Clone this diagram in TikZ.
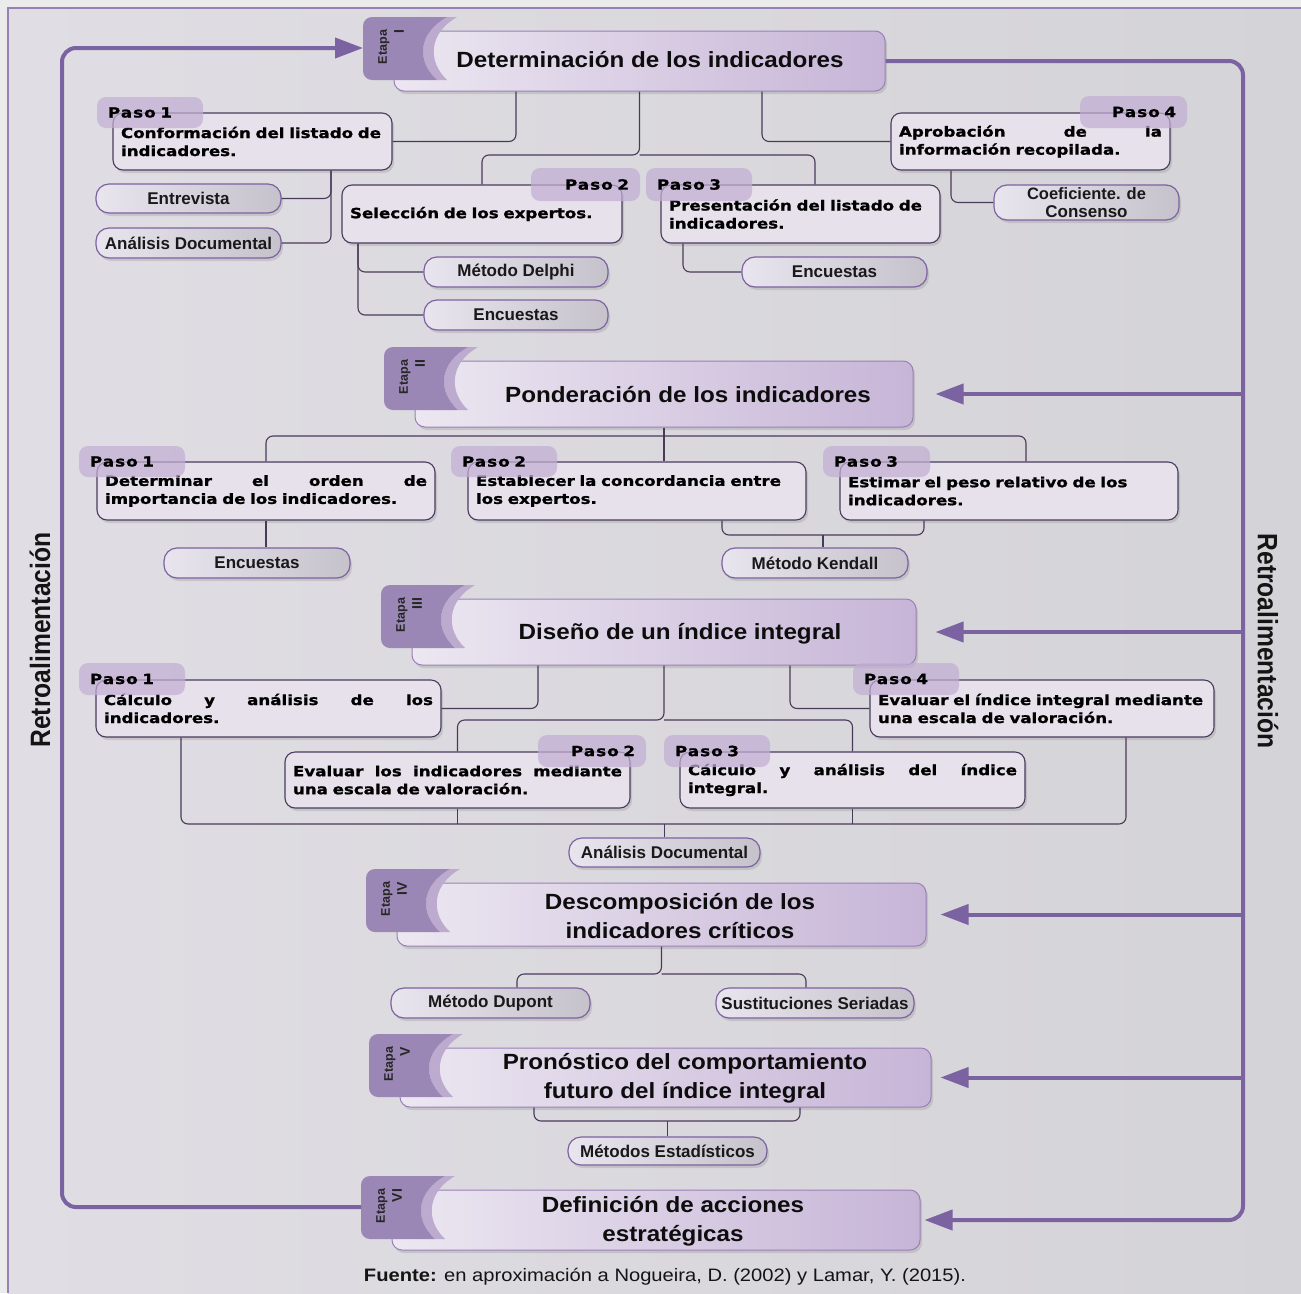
\documentclass[tikz,border=0pt]{standalone}
\usepackage{fontspec}
\setmainfont{Liberation Sans}
\newfontfamily\stepfont{DejaVu Sans}[FakeStretch=1.19,FakeBold=1.2]
\newfontfamily\titlefont{Liberation Sans}[FakeStretch=1.1]
\newfontfamily\srcfont{Liberation Sans}[FakeStretch=1.12]
\newfontfamily\narrowfont{Liberation Sans}[FakeStretch=0.88]
\usetikzlibrary{arrows.meta,shadows}
\definecolor{fbpurple}{HTML}{7B62A0}
\definecolor{tabfill}{HTML}{9A87B5}
\definecolor{tablight}{HTML}{BCAACF}
\definecolor{stageL}{HTML}{ECE7F1}
\definecolor{stageR}{HTML}{C7B5D7}
\definecolor{stageB}{HTML}{9A80B8}
\definecolor{stepfill}{HTML}{E6E1EB}
\definecolor{stepB}{HTML}{4B3B5E}
\definecolor{pasocol}{HTML}{C2AED4}
\definecolor{pillL}{HTML}{E9E5EE}
\definecolor{pillR}{HTML}{C6C2CB}
\definecolor{pillB}{HTML}{7D62A0}
\definecolor{connc}{HTML}{4A3A5A}
\definecolor{bgL}{HTML}{E0DEE4}
\definecolor{bgR}{HTML}{D4D3D7}

\newcommand\mkstage[6]{%
  \pgfmathsetmacro\sbw{#4-#2}\pgfmathsetmacro\sbh{#5-#3}%
  \node[stagestyle, minimum width=\sbw pt, minimum height=\sbh pt] (#1) at ({(#2+#4)/2},{(#3+#5)/2}) {};
  \fill[tablight] ({#2+53},{#3-14}) .. controls ({#2+24},{#3+2}) and ({#2+22},{#3+30}) .. ({#2+43},{#3+49}) -- ({#2+53},{#3+49}) .. controls ({#2+33},{#3+30}) and ({#2+35},{#3+2}) .. ({#2+63},{#3-14}) -- cycle;
  \fill[tabfill] ({#2+53},{#3-14}) -- ({#2-22},{#3-14}) arc[start angle=270,end angle=180,radius=9] -- ({#2-31},{#3+40}) arc[start angle=180,end angle=90,radius=9] -- ({#2+43},{#3+49}) .. controls ({#2+22},{#3+30}) and ({#2+24},{#3+2}) .. ({#2+53},{#3-14}) -- cycle;
  \coordinate (#1tab) at ({#2-31},{#3+17});
  \node[etapastyle, rotate=90, align=right] (#1et) at ({#2-3},{#3+16}) {Etapa\\{\fontsize{14}{17}\selectfont #6}};
}
\newcommand\mkstep[6]{%
  \pgfmathsetmacro\sbw{#4-#2}\pgfmathsetmacro\sbh{#5-#3}\pgfmathsetmacro\sbt{#4-#2-16}%
  \node[stepstyle, minimum width=\sbw pt, minimum height=\sbh pt, text width=\sbt pt] (#1) at ({(#2+#4)/2},{(#3+#5)/2}) {#6};
}
\newcommand\mkpaso[7]{%
  \pgfmathsetmacro\sbw{#4-#2}\pgfmathsetmacro\sbh{#5-#3}\pgfmathsetmacro\sbt{#4-#2-22}%
  \node[pasostyle, minimum width=\sbw pt, minimum height=\sbh pt, text width=\sbt pt, align=#7] (#1) at ({(#2+#4)/2},{(#3+#5)/2}) {#6};
}
\newcommand\mkpill[6]{%
  \pgfmathsetmacro\sbw{#4-#2}\pgfmathsetmacro\sbh{#5-#3}%
  \node[pillstyle, minimum width=\sbw pt, minimum height=\sbh pt] (#1) at ({(#2+#4)/2},{(#3+#5)/2}) {#6};
}

\begin{document}
\begin{tikzpicture}[x=1pt,y=-1pt,
  stagestyle/.style={rounded corners=10pt, left color=stageL, right color=stageR, draw=stageB, line width=1pt,
     drop shadow={opacity=0.25, shadow xshift=2pt, shadow yshift=-3pt}, inner sep=0pt},
  titlestyle/.style={font=\titlefont\bfseries\fontsize{22}{29}\selectfont, align=center, text=black!95, inner sep=0pt},
  etapastyle/.style={font=\bfseries\fontsize{12.5}{17}\selectfont, text=black!85, inner sep=0pt},
  stepstyle/.style={rounded corners=10pt, fill=stepfill, draw=stepB, line width=1.1pt, inner xsep=8pt, inner ysep=3pt,
     align=left, font=\stepfont\bfseries\fontsize{14}{18}\selectfont, text=black,
     drop shadow={opacity=0.25, shadow xshift=2pt, shadow yshift=-3pt}},
  pasostyle/.style={rounded corners=9pt, fill=pasocol, fill opacity=0.72, text opacity=1, inner xsep=11pt, inner ysep=0pt,
     font=\stepfont\bfseries\fontsize{14}{16}\selectfont\addfontfeature{LetterSpace=8}, text=black},
  pillstyle/.style={rounded corners=13pt, left color=pillL, right color=pillR, draw=pillB, line width=1.2pt,
     inner sep=1pt, align=center, font=\bfseries\fontsize{17}{18}\selectfont, text=black!90,
     drop shadow={opacity=0.25, shadow xshift=2pt, shadow yshift=-3pt}},
  conn/.style={draw=connc, line width=1.1pt, rounded corners=7pt},
  fb/.style={draw=fbpurple, line width=4pt, rounded corners=14pt},
  fbarrow/.style={fb, -{Triangle[length=28pt,width=20pt]}},
  retro/.style={font=\narrowfont\bfseries\fontsize{28}{30}\selectfont, text=black!92, inner sep=0pt}
]
\useasboundingbox (0,0) rectangle (1301,1293);
\fill[white!92!black] (0,0) rectangle (1301,1293);
\shade[left color=bgL, right color=bgR] (8,8) rectangle (1301,1293);
\draw[fbpurple!80, line width=1.2pt] (8,1293) -- (8,8) -- (1301,8);

% ---------------- stages
\mkstage{e1}{394}{31}{885}{91}{I}
\mkstage{e2}{415}{361}{913}{427}{II}
\mkstage{e3}{412}{599}{916}{665}{III}
\mkstage{e4}{397}{883}{926}{946}{IV}
\mkstage{e5}{400}{1048}{931}{1107}{V}
\mkstage{e6}{392}{1190}{920}{1250}{VI}

\node[titlestyle] (e1t) at (650,60) {Determinación de los indicadores};
\node[titlestyle] (e2t) at (688,395) {Ponderación de los indicadores};
\node[titlestyle] (e3t) at (680,634) {Diseño de un índice integral};
\node[titlestyle] (e4t) at (680,916) {Descomposición de los\\indicadores críticos};
\node[titlestyle] (e5t) at (685,1078) {Pronóstico del comportamiento\\futuro del índice integral};
\node[titlestyle] (e6t) at (673,1221) {Definición de acciones\\estratégicas};

% ---------------- feedback lines
\draw[fbarrow] (e6tab) -- (62,0 |- e6tab) -- (62,0 |- e1tab) -- (e1tab);
\draw[fbarrow] (e1.east) -- (1243,0 |- e1.east) -- (1243,0 |- e6.east) -- ([xshift=4pt]e6.east);
\draw[fbarrow] (1243,0 |- e2.east) -- ([xshift=22pt]e2.east);
\draw[fbarrow] (1243,0 |- e3.east) -- ([xshift=19pt]e3.east);
\draw[fbarrow] (1243,0 |- e4.east) -- ([xshift=14pt]e4.east);
\draw[fbarrow] (1243,0 |- e5.east) -- ([xshift=9pt]e5.east);

\node[retro, rotate=90] (rl) at (40,640) {Retroalimentación};
\node[retro, rotate=-90] (rr) at (1268,641) {Retroalimentación};

% ---------------- Etapa I
\mkstep{s11}{113}{113}{392}{170}{Conformación del listado de\\indicadores.}
\mkstep{s12}{342}{185}{622}{243}{Selección de los expertos.}
\mkstep{s13}{661}{185}{940}{243}{Presentación del listado de\\indicadores.}
\mkstep{s14}{891}{113}{1170}{170}{Aprobación\hfill de\hfill la\\información recopilada.}
\mkpaso{p11}{97}{97}{203}{128}{Paso 1}{left}
\mkpaso{p12}{531}{168}{640}{201}{Paso 2}{right}
\mkpaso{p13}{646}{168}{752}{201}{Paso 3}{left}
\mkpaso{p14}{1080}{96}{1187}{128}{Paso 4}{right}
\mkpill{pe1}{96}{184}{281}{213}{Entrevista}
\mkpill{pad1}{96}{228}{281}{258}{Análisis Documental}
\mkpill{pdel}{424}{257}{608}{287}{Método Delphi}
\mkpill{pen1}{424}{300}{608}{330}{Encuestas}
\mkpill{pen2}{742}{257}{927}{287}{Encuestas}
\mkpill{pcoef}{994}{185}{1179}{220}{\fontsize{16.5}{18}\selectfont Coeficiente. de\\Consenso}

\draw[conn] (516,0 |- e1.south) |- (s11.east);
\draw[conn] (e1.south) -- (e1.south |- 0,155) -| (s12.north);
\draw[conn] (e1.south |- 0,155) -| (815,0 |- s13.north);
\draw[conn] (762,0 |- e1.south) |- (s14.west);
\draw[conn] (331,0 |- s11.south) |- (pe1.east);
\draw[conn] (331,0 |- s11.south) |- (pad1.east);
\draw[conn] (358,0 |- s12.south) |- (pdel.west);
\draw[conn] (358,0 |- s12.south) |- (pen1.west);
\draw[conn] (683,0 |- s13.south) |- (pen2.west);
\draw[conn] (951,0 |- s14.south) |- (pcoef.west);

% ---------------- Etapa II
\mkstep{s21}{97}{462}{435}{520}{Determinar\hfill el\hfill orden\hfill de\\importancia de los indicadores.}
\mkstep{s22}{468}{462}{806}{520}{Establecer la concordancia entre\\los expertos.}
\mkstep{s23}{840}{462}{1178}{520}{Estimar el peso relativo de los\\indicadores.}
\mkpaso{p21}{79}{446}{185}{477}{Paso 1}{left}
\mkpaso{p22}{451}{446}{557}{477}{Paso 2}{left}
\mkpaso{p23}{823}{446}{930}{477}{Paso 3}{left}
\mkpill{pen3}{164}{548}{350}{578}{Encuestas}
\mkpill{pken}{722}{548}{908}{578}{Método Kendall}

\draw[conn] (e2.south) -- (e2.south |- s22.north);
\draw[conn] (e2.south |- 0,436) -| (s21.north);
\draw[conn] (e2.south |- 0,436) -| (1026,0 |- s23.north);
\draw[conn] (s21.south) -- (s21.south |- pen3.north);
\draw[conn] (722,0 |- s22.south) |- (823,535) -| (924,0 |- s23.south);
\draw[conn] (823,0 |- pken.north) -- (823,535);

% ---------------- Etapa III
\mkstep{s31}{96}{680}{441}{737}{Cálculo\hfill y\hfill análisis\hfill de\hfill los\\indicadores.}
\mkstep{s32}{285}{752}{630}{808}{Evaluar\hfill los\hfill indicadores\hfill mediante\\una escala de valoración.}
\mkstep{s33}{680}{752}{1025}{808}{Cálculo\hfill y\hfill análisis\hfill del\hfill índice\\integral.}
\mkstep{s34}{870}{680}{1214}{737}{Evaluar el índice integral mediante\\una escala de valoración.}
\mkpaso{p31}{79}{663}{185}{695}{Paso 1}{left}
\mkpaso{p32}{538}{735}{646}{767}{Paso 2}{right}
\mkpaso{p33}{664}{735}{770}{767}{Paso 3}{left}
\mkpaso{p34}{853}{663}{959}{695}{Paso 4}{left}
\mkpill{pad2}{569}{838}{760}{867}{Análisis Documental}

\draw[conn] (538,0 |- e3.south) |- (s31.east);
\draw[conn] (e3.south) -- (e3.south |- 0,720) -| (s32.north);
\draw[conn] (e3.south |- 0,720) -| (s33.north);
\draw[conn] (790,0 |- e3.south) |- (s34.west);
\draw[conn] (181,0 |- s31.south) |- (664,824) -| (1126,0 |- s34.south);
\draw[conn] (s32.south) -- (s32.south |- 0,824);
\draw[conn] (s33.south) -- (s33.south |- 0,824);
\draw[conn] (pad2.north |- 0,824) -- (pad2.north);

% ---------------- Etapa IV
\mkpill{pdup}{391}{988}{590}{1018}{Método Dupont}
\mkpill{pss}{716}{988}{914}{1018}{Sustituciones Seriadas}
\draw[conn] (e4.south) -- (e4.south |- 0,974) -| (517,0 |- pdup.north);
\draw[conn] (e4.south |- 0,974) -| (806,0 |- pss.north);

% ---------------- Etapa V
\mkpill{pest}{568}{1137}{767}{1165}{Métodos Estadísticos}
\draw[conn] (534,0 |- e5.south) |- (667,1121) -| (800,0 |- e5.south);
\draw[conn] (pest.north |- 0,1121) -- (pest.north);

% ---------------- source
\node[font=\srcfont\fontsize{18}{20}\selectfont, text=black!92] (src) at (665,1277) {\textbf{Fuente:} en aproximación a Nogueira, D. (2002) y Lamar, Y. (2015).};
\end{tikzpicture}
\end{document}
